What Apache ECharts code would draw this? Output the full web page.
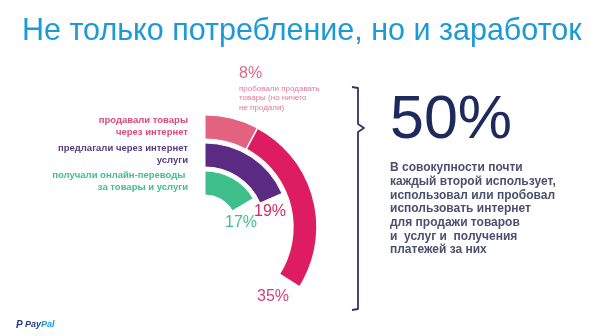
<!DOCTYPE html>
<html>
<head>
<meta charset="utf-8">
<script src="https://cdn.jsdelivr.net/npm/echarts@6/dist/echarts.min.js"></script>
<style>
  html, body { margin: 0; padding: 0; background: #ffffff; }
  #chart { width: 600px; height: 336px; }
</style>
</head>
<body>
<div id="chart"></div>
<script>
// Rings from the inside out: online payments, services, goods
var ringNames = ['получали онлайн-переводы', 'предлагали через интернет услуги', 'продавали товары через интернет'];
var ringValues = [17, 19, 35];          // share of respondents, %
var triedGoods = 8;                      // tried to sell goods but sold nothing, %
var totalShare = 50;                     // combined share, %

var colors = {
  green: '#3fbf8c',
  purple: '#5b2b84',
  pink: '#dd1c61',
  lightPink: '#e3627f',
  navy: '#1f2a5c',
  title: '#1b9ad7'
};

var chart = echarts.init(document.getElementById('chart'), null, { renderer: 'canvas' });

var baseData = [
  { value: ringValues[0], itemStyle: { color: colors.green } },
  { value: ringValues[1], itemStyle: { color: colors.purple } },
  { value: triedGoods, itemStyle: { color: colors.lightPink } }
];
var soldData = ['-', '-', { value: ringValues[2] - triedGoods, itemStyle: { color: colors.pink } }];

var font = 'Liberation Sans, Arial, sans-serif';

chart.setOption({
  animation: false,
  backgroundColor: '#ffffff',
  polar: { center: [205, 227], radius: [30, 114] },
  angleAxis: {
    type: 'value', min: 0, max: 103, startAngle: 90, clockwise: true,
    axisLine: { show: false }, axisTick: { show: false }, axisLabel: { show: false }, splitLine: { show: false }
  },
  radiusAxis: {
    type: 'category', data: ringNames,
    axisLine: { show: false }, axisTick: { show: false }, axisLabel: { show: false }, splitLine: { show: false }
  },
  series: [
    {
      type: 'bar', coordinateSystem: 'polar', stack: 'ring', barWidth: 24,
      itemStyle: { borderColor: '#ffffff', borderWidth: 1 },
      data: baseData
    },
    {
      type: 'bar', coordinateSystem: 'polar', stack: 'ring', barWidth: 24,
      itemStyle: { borderColor: '#ffffff', borderWidth: 1.5 },
      data: soldData
    }
  ],
  graphic: [
    // title
    { type: 'text', x: 22, y: 32, style: { text: 'Не только потребление, но и заработок', font: '30.5px ' + font, fill: colors.title, verticalAlign: 'middle' } },

    // ring captions on the left
    { type: 'text', x: 188, y: 126, style: { text: 'продавали товары\nчерез интернет', font: 'bold 9.5px ' + font, fill: '#d84a78', align: 'right', verticalAlign: 'middle', lineHeight: 12 } },
    { type: 'text', x: 188, y: 154, style: { text: 'предлагали через интернет\nуслуги', font: 'bold 9.5px ' + font, fill: '#5a3a7c', align: 'right', verticalAlign: 'middle', lineHeight: 12 } },
    { type: 'text', x: 188, y: 181, style: { text: 'получали онлайн-переводы \nза товары и услуги', font: 'bold 9.5px ' + font, fill: '#3fbf8c', align: 'right', verticalAlign: 'middle', lineHeight: 12 } },

    // value labels
    { type: 'text', x: 239, y: 74, style: { text: triedGoods + '%', font: '16px ' + font, fill: '#e0658a', verticalAlign: 'middle' } },
    { type: 'text', x: 239, y: 98, style: { text: 'пробовали продавать\nтовары (но ничего\nне продали)', font: '8px ' + font, fill: '#e37a98', verticalAlign: 'middle', lineHeight: 9.5 } },
    { type: 'text', x: 270, y: 212, style: { text: ringValues[1] + '%', font: '16px ' + font, fill: '#d42a68', align: 'center', verticalAlign: 'middle' } },
    { type: 'text', x: 241, y: 223, style: { text: ringValues[0] + '%', font: '16px ' + font, fill: colors.green, align: 'center', verticalAlign: 'middle' } },
    { type: 'text', x: 273, y: 297, style: { text: ringValues[2] + '%', font: '16px ' + font, fill: '#d43f78', align: 'center', verticalAlign: 'middle' } },

    // brace
    { type: 'polyline', shape: { points: [[352, 87], [358, 88], [358, 124], [364, 128], [358, 132], [358, 309], [352, 310]] },
      style: { stroke: '#2e3668', lineWidth: 1.8, fill: null, lineJoin: 'round' } },

    // headline figure and explanation
    { type: 'text', x: 390, y: 121, style: { text: totalShare + '%', font: '61px ' + font, fill: colors.navy, verticalAlign: 'middle' } },
    { type: 'text', x: 390, y: 161, style: { text: 'В совокупности почти\nкаждый второй использует,\nиспользовал или пробовал\nиспользовать интернет\nдля продажи товаров\nи  услуг и  получения\nплатежей за них', font: 'bold 12px ' + font, fill: '#4c5070', lineHeight: 13.7 } },

    // logo
    { type: 'text', x: 16, y: 325, style: { text: 'P', font: 'italic bold 10px ' + font, fill: '#253b80', verticalAlign: 'middle' } },
    { type: 'text', x: 25, y: 325, style: { text: '{a|Pay}{b|Pal}', verticalAlign: 'middle', rich: { a: { font: 'italic bold 9px ' + font, fill: '#253b80' }, b: { font: 'italic bold 9px ' + font, fill: '#179bd7' } } } }
  ]
});
</script>
</body>
</html>
